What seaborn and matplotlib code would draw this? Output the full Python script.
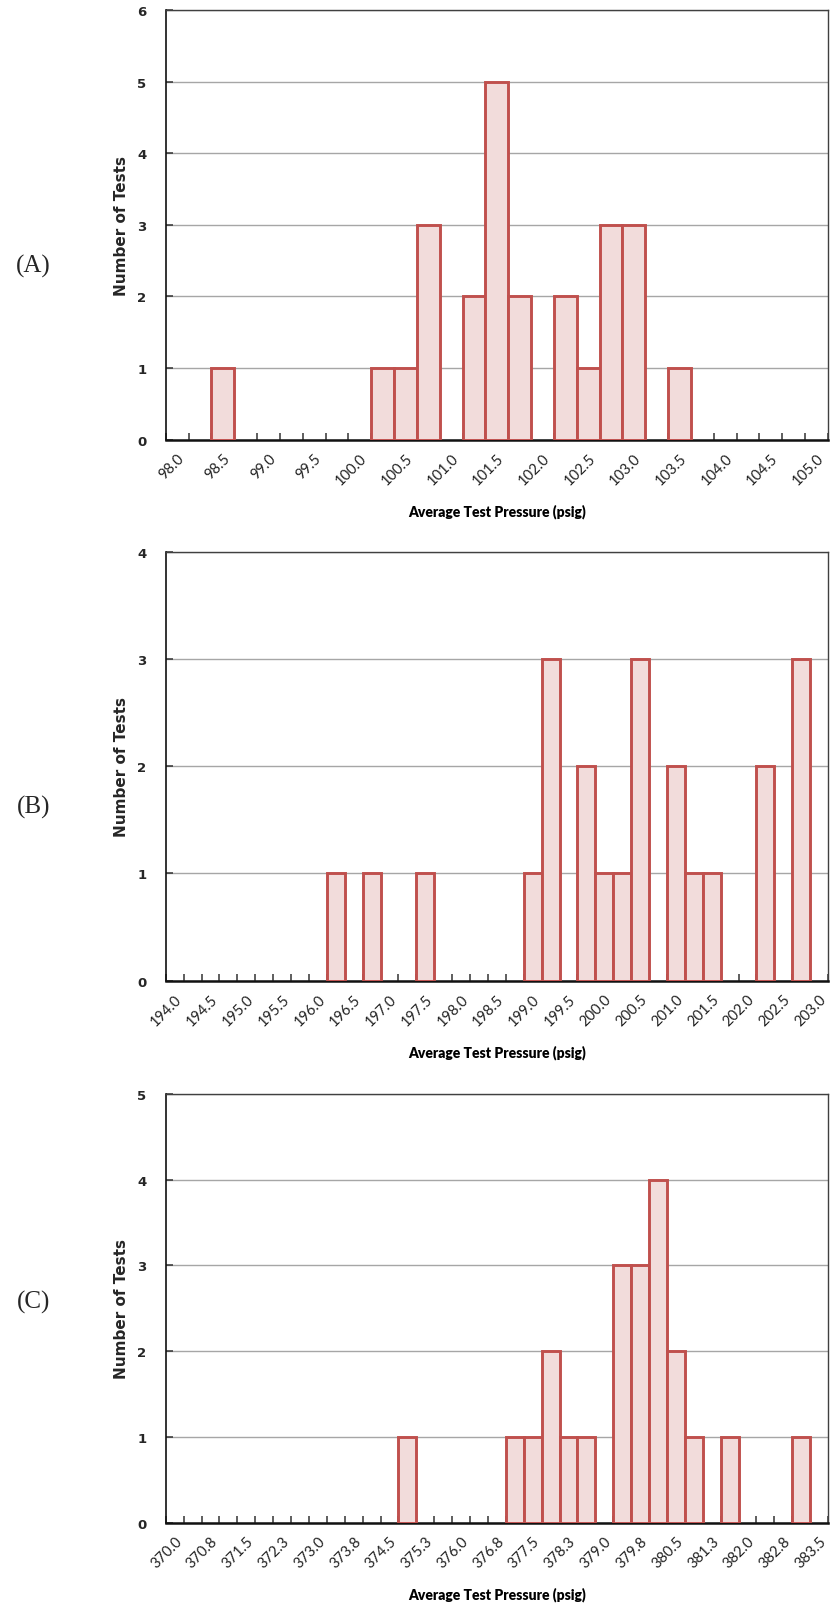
import matplotlib.pyplot as plt
import seaborn as sns
import numpy as np

# Panel (A): bin value -> number of tests
a_bins = [98.5, 100.25, 100.5, 100.75, 101.25, 101.5, 101.75, 102.25, 102.5, 102.75, 103.0, 103.5]
a_counts = [1, 1, 1, 3, 2, 5, 2, 2, 1, 3, 3, 1]
a_ticks = [98.0, 98.5, 99.0, 99.5, 100.0, 100.5, 101.0, 101.5, 102.0, 102.5, 103.0, 103.5, 104.0, 104.5, 105.0]
a_labels = ['98.0', '98.5', '99.0', '99.5', '100.0', '100.5', '101.0', '101.5', '102.0', '102.5',
            '103.0', '103.5', '104.0', '104.5', '105.0']

# Panel (B)
b_bins = [196.25, 196.75, 197.5, 199.0, 199.25, 199.75, 200.0, 200.25, 200.5, 201.0, 201.25, 201.5, 202.25, 202.75]
b_counts = [1, 1, 1, 1, 3, 2, 1, 1, 3, 2, 1, 1, 2, 3]
b_ticks = [194.0, 194.5, 195.0, 195.5, 196.0, 196.5, 197.0, 197.5, 198.0, 198.5, 199.0, 199.5, 200.0,
           200.5, 201.0, 201.5, 202.0, 202.5, 203.0]
b_labels = ['194.0', '194.5', '195.0', '195.5', '196.0', '196.5', '197.0', '197.5', '198.0', '198.5',
            '199.0', '199.5', '200.0', '200.5', '201.0', '201.5', '202.0', '202.5', '203.0']

# Panel (C)
c_bins = [374.875, 377.125, 377.5, 377.875, 378.25, 378.625, 379.375, 379.75, 380.125, 380.5, 380.875,
          381.625, 383.125]
c_counts = [1, 1, 1, 2, 1, 1, 3, 3, 4, 2, 1, 1, 1]
c_ticks = [370.0, 370.75, 371.5, 372.25, 373.0, 373.75, 374.5, 375.25, 376.0, 376.75, 377.5, 378.25,
           379.0, 379.75, 380.5, 381.25, 382.0, 382.75, 383.5]
c_labels = ['370.0', '370.8', '371.5', '372.3', '373.0', '373.8', '374.5', '375.3', '376.0', '376.8',
            '377.5', '378.3', '379.0', '379.8', '380.5', '381.3', '382.0', '382.8', '383.5']

panels = [
    ('(A)', a_bins, a_counts, a_ticks, a_labels, 0.25, 6),
    ('(B)', b_bins, b_counts, b_ticks, b_labels, 0.25, 4),
    ('(C)', c_bins, c_counts, c_ticks, c_labels, 0.375, 5),
]

sns.set_style('white')
fig = plt.figure(figsize=(8.33, 16.06), dpi=100)

# axes boxes in figure fractions (left, bottom, width, height)
boxes = [
    (0.199, 0.7257, 0.795, 0.2673),
    (0.199, 0.3888, 0.795, 0.2669),
    (0.199, 0.0513, 0.795, 0.2669),
]
tag_y = [0.834, 0.4975, 0.1887]

edge = '#c0504d'
fill = '#f2dcdb'

for (tag, bins, counts, ticks, labels, step, ymax), box, ty in zip(panels, boxes, tag_y):
    ax = fig.add_axes(box)
    sns.barplot(x=bins, y=counts, native_scale=True, width=1.0, color=fill, saturation=1,
                edgecolor=edge, linewidth=2.1, errorbar=None, ax=ax, zorder=3)

    lo = ticks[0] - step / 2
    hi = ticks[-1] + step / 2
    ax.set_xlim(lo, hi)
    ax.set_ylim(0, ymax)

    # labels on every other category, tick marks between categories
    ax.set_xticks(ticks)
    ax.set_xticklabels(labels, rotation=45, ha='right', rotation_mode='anchor',
                       fontfamily='Lato', fontsize=10.5, color='#222222')
    ax.set_xticks(np.arange(lo, hi + step / 2, step), minor=True)
    ax.tick_params(axis='x', which='major', bottom=True, length=0, pad=8)
    ax.tick_params(axis='x', which='minor', bottom=True, direction='in', length=5, width=1.1,
                   color='#333333')

    ax.set_yticks(range(0, ymax + 1))
    ax.set_yticklabels([str(v) for v in range(0, ymax + 1)], fontfamily='DejaVu Sans',
                       fontweight='bold', fontsize=9.5)
    ax.tick_params(axis='y', left=True, direction='in', length=5, width=1.1, color='#333333', pad=14)

    ax.yaxis.grid(True, color='#a6a6a6', linewidth=1.0, zorder=0)
    ax.set_axisbelow(True)

    for s in ['top', 'right']:
        ax.spines[s].set_color('#404040')
        ax.spines[s].set_linewidth(1.0)
    ax.spines['left'].set_color('#111111')
    ax.spines['left'].set_linewidth(1.2)
    ax.spines['bottom'].set_color('#111111')
    ax.spines['bottom'].set_linewidth(1.8)

    ax.set_ylabel('Number of Tests', fontfamily='DejaVu Sans', fontweight='bold', fontsize=11, labelpad=6)
    ax.set_xlabel('Average Test Pressure (psig)', fontfamily='Lato', fontweight='heavy', fontsize=10,
                  color='black')
    ax.xaxis.set_label_coords(0.5, -0.148)

    fig.text(0.04, ty, tag, fontfamily='Liberation Serif', fontsize=18, ha='center', va='center')

fig.savefig('out.png', dpi=100)
